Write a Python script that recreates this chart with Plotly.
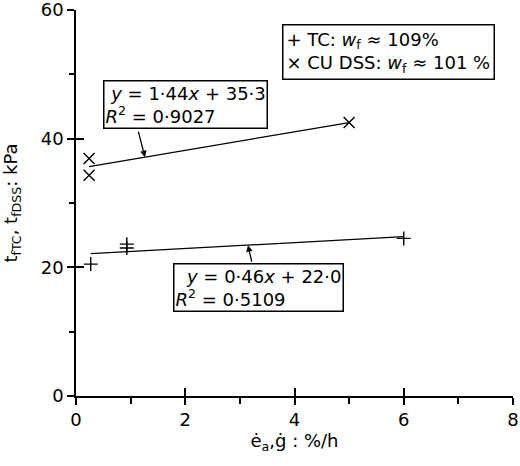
import plotly.graph_objects as go

# Data
tc_x = [0.27, 0.93, 0.93, 6.0]
tc_y = [20.5, 23.0, 23.6, 24.5]
dss_x = [0.24, 0.24, 5.0]
dss_y = [36.9, 34.3, 42.5]

tc_fit_x = [0.27, 6.0]
tc_slope, tc_icpt = 0.46, 22.0
dss_fit_x = [0.24, 5.0]
dss_slope, dss_icpt = 1.44, 35.3

tc_fit_y = [tc_slope * x + tc_icpt for x in tc_fit_x]
dss_fit_y = [dss_slope * x + dss_icpt for x in dss_fit_x]

x_ticks = [0, 2, 4, 6, 8]
y_ticks = [0, 20, 40, 60]

FONT = "DejaVu Sans"
FS = 18

fig = go.Figure()
fig.add_trace(go.Scatter(x=tc_x, y=tc_y, mode="markers",
                         marker=dict(symbol="cross-thin", size=10, color="black",
                                     line=dict(color="black", width=1.4)),
                         name="TC", showlegend=False))
fig.add_trace(go.Scatter(x=dss_x, y=dss_y, mode="markers",
                         marker=dict(symbol="x-thin", size=11, color="black",
                                     line=dict(color="black", width=1.4)),
                         name="CU DSS", showlegend=False))
fig.add_trace(go.Scatter(x=tc_fit_x, y=tc_fit_y, mode="lines",
                         line=dict(color="black", width=1.3), showlegend=False))
fig.add_trace(go.Scatter(x=dss_fit_x, y=dss_fit_y, mode="lines",
                         line=dict(color="black", width=1.3), showlegend=False))

axis_common = dict(showgrid=False, zeroline=False, showline=True,
                   linecolor="black", linewidth=1.5, ticks="outside",
                   ticklen=7, tickwidth=1.5, tickcolor="black",
                   automargin=False, ticklabeloverflow="allow",
                   tickfont=dict(family=FONT, size=FS, color="black"))

fig.update_layout(
    width=520, height=466,
    margin=dict(l=76, r=7, t=10, b=70),
    plot_bgcolor="white", paper_bgcolor="white",
    font=dict(family=FONT, size=FS, color="black"),
    xaxis=dict(range=[0, 8], tickvals=x_ticks, **axis_common,
               minor=dict(ticks="outside", ticklen=6, tickwidth=1.5,
                          tickcolor="black", dtick=1),
               title=dict(text="ė<sub>a</sub>,ġ : %/h", standoff=4,
                          font=dict(family=FONT, size=FS))),
    yaxis=dict(range=[0, 60], tickvals=y_ticks, **axis_common,
               minor=dict(ticks="outside", ticklen=5, tickwidth=1.5,
                          tickcolor="black", dtick=10),
               title=dict(text="t<sub>fTC</sub>, t<sub>fDSS</sub>: kPa", standoff=20,
                          font=dict(family=FONT, size=FS))),
    xaxis2=dict(range=[0, 8], overlaying="x", anchor="y", side="bottom",
                tickvals=x_ticks, ticks="inside", ticklen=8, tickwidth=1.5,
                tickcolor="black", showticklabels=False, showgrid=False,
                zeroline=False, showline=False, automargin=False),
    yaxis2=dict(range=[0, 60], overlaying="y", anchor="x", side="left",
                tickvals=y_ticks, ticks="inside", ticklen=8, tickwidth=1.5,
                tickcolor="black", showticklabels=False, showgrid=False,
                zeroline=False, showline=False, automargin=False),
    showlegend=False,
)

# invisible trace to activate overlay axes
fig.add_trace(go.Scatter(x=[None], y=[None], xaxis="x2", yaxis="y2",
                         showlegend=False, hoverinfo="skip"))

# legend box
fig.add_annotation(x=0.471, y=0.964, xref="paper", yref="paper",
                   xanchor="left", yanchor="top", align="left", showarrow=False,
                   text="+ TC: <i>w</i><sub>f</sub> ≈ 109%<br>"
                        "× CU DSS: <i>w</i><sub>f</sub> ≈ 101 %",
                   bordercolor="black", borderwidth=1.5, borderpad=3,
                   bgcolor="white", font=dict(family=FONT, size=FS))

# DSS fit label
fig.add_annotation(x=0.494, y=49.1, xref="x", yref="y", xanchor="left", yanchor="top",
                   text="&nbsp;<i>y</i> = 1·44<i>x</i> + 35·3<br><i>R</i><sup>2</sup> = 0·9027",
                   align="left", showarrow=False, bordercolor="black", borderwidth=1.5,
                   bgcolor="white", borderpad=1, font=dict(family=FONT, size=FS))
fig.add_annotation(x=1.263, y=dss_slope * 1.263 + dss_icpt, xref="x", yref="y",
                   text="", showarrow=True, arrowhead=2, arrowsize=1, arrowwidth=1.3,
                   arrowcolor="black", ax=-7, ay=-27)

# TC fit label
fig.add_annotation(x=1.776, y=20.67, xref="x", yref="y", xanchor="left", yanchor="top",
                   text="&nbsp;&nbsp;<i>y</i> = 0·46<i>x</i> + 22·0<br><i>R</i><sup>2</sup> = 0·5109",
                   align="left", showarrow=False, bordercolor="black", borderwidth=1.5,
                   bgcolor="white", borderpad=1, font=dict(family=FONT, size=FS))
fig.add_annotation(x=3.149, y=tc_slope * 3.149 + tc_icpt, xref="x", yref="y",
                   text="", showarrow=True, arrowhead=2, arrowsize=1, arrowwidth=1.3,
                   arrowcolor="black", ax=4, ay=18)

fig.write_html("out.html", config={"displayModeBar": False},
               post_script="document.body.style.margin='0px';")
